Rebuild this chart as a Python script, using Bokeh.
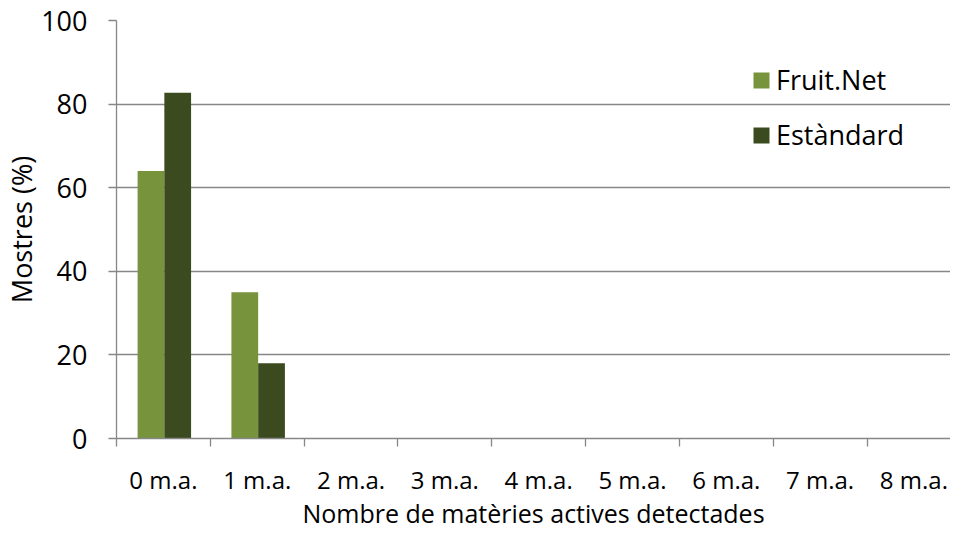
from bokeh.plotting import figure
from bokeh.models import Range1d, FixedTicker, Legend, LegendItem
from bokeh.embed import file_html
from bokeh.resources import INLINE
import numpy as np

categories = ["0 m.a.", "1 m.a.", "2 m.a.", "3 m.a.", "4 m.a.", "5 m.a.", "6 m.a.", "7 m.a.", "8 m.a."]
fruitnet = [64, 35, 0, 0, 0, 0, 0, 0, 0]
estandard = [82.7, 18, 0, 0, 0, 0, 0, 0, 0]
series_names = ["Fruit.Net", "Estàndard"]
y_ticks = [0, 20, 40, 60, 80, 100]
x_title = "Nombre de matèries actives detectades"
y_title = "Mostres (%)"

FONT = "Open Sans"
GRAY = "#878787"
C1 = "#77933C"
C2 = "#3B4A1F"

p = figure(width=950, height=533, output_backend="svg", toolbar_location=None,
           x_range=Range1d(0, 8.89), y_range=Range1d(0, 100),
           min_border_left=109, min_border_right=0, min_border_top=20, min_border_bottom=95)
p.outline_line_color = None
p.xgrid.grid_line_color = None
p.ygrid.grid_line_color = GRAY
p.ygrid.grid_line_width = 1.3
p.ygrid.ticker = FixedTicker(ticks=y_ticks)

centers = np.arange(len(categories)) + 0.5
bw = 0.285
shift = 0.01
r1 = p.vbar(x=centers - bw / 2 + shift, top=fruitnet, width=bw, fill_color=C1, line_color=None)
r2 = p.vbar(x=centers + bw / 2 + shift, top=estandard, width=bw, fill_color=C2, line_color=None)

# x axis
xa = p.xaxis[0]
xa.ticker = FixedTicker(ticks=list(centers), minor_ticks=list(range(len(categories) + 1)))
xa.major_label_overrides = {float(c): lab for c, lab in zip(centers, categories)}
xa.major_tick_out = 0
xa.major_tick_in = 0
xa.minor_tick_out = 8
xa.minor_tick_in = 0
xa.minor_tick_line_color = GRAY
xa.minor_tick_line_width = 1.3
xa.axis_line_color = GRAY
xa.axis_line_width = 1.3
xa.major_label_text_font = FONT
xa.major_label_text_font_size = "24px"
xa.major_label_text_color = "#000000"
xa.major_label_standoff = 16
xa.axis_label = x_title
xa.axis_label_text_font = FONT
xa.axis_label_text_font_size = "25px"
xa.axis_label_text_font_style = "normal"
xa.axis_label_text_color = "#000000"
xa.axis_label_standoff = -3

# y axis
ya = p.yaxis[0]
ya.ticker = FixedTicker(ticks=y_ticks)
ya.major_tick_out = 8
ya.major_tick_in = 0
ya.minor_tick_out = 0
ya.minor_tick_in = 0
ya.major_tick_line_color = GRAY
ya.major_tick_line_width = 1.3
ya.axis_line_color = GRAY
ya.axis_line_width = 1.3
ya.major_label_text_font = FONT
ya.major_label_text_font_size = "27px"
ya.major_label_text_color = "#000000"
ya.major_label_standoff = 21
ya.axis_label = y_title
ya.axis_label_text_font = FONT
ya.axis_label_text_font_size = "27px"
ya.axis_label_text_font_style = "normal"
ya.axis_label_text_color = "#000000"
ya.axis_label_standoff = -2

legend = Legend(items=[LegendItem(label=series_names[0], renderers=[r1]),
                       LegendItem(label=series_names[1], renderers=[r2])],
                location=(635, 285), orientation="vertical",
                glyph_width=20, glyph_height=20, label_standoff=5,
                spacing=18, padding=0, margin=0,
                border_line_color=None, background_fill_alpha=0,
                label_text_font=FONT, label_text_font_size="27px", label_text_color="#000000")
p.add_layout(legend)

open("out.html", "w").write(file_html(p, INLINE))
